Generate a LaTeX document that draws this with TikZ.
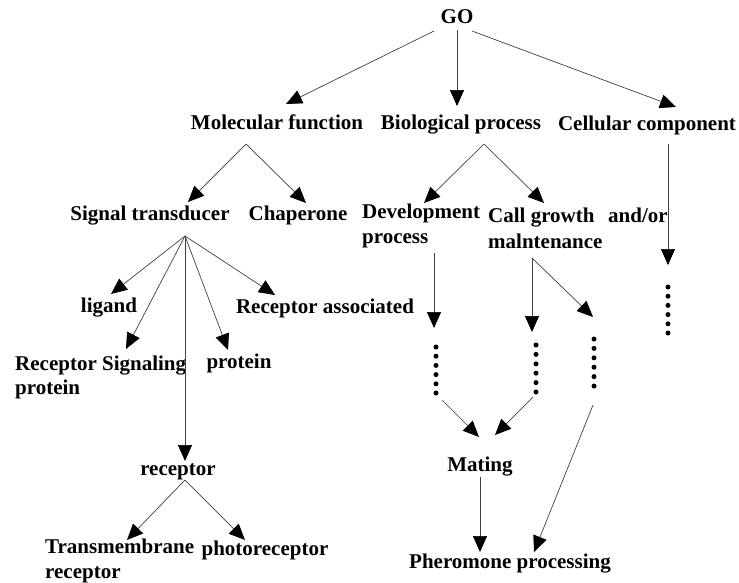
\documentclass[tikz,border=0pt]{standalone}
\usepackage{fontspec}
\setmainfont{Liberation Serif}
\usetikzlibrary{arrows.meta}
\begin{document}
\begin{tikzpicture}[x=1pt,y=-1pt,
  lbl/.style={font=\fontsize{21}{25}\selectfont\bfseries, inner sep=0pt, anchor=base},
  lblw/.style={lbl, anchor=base west},
  conn/.style={draw=black!75, line width=0.7pt, -{Triangle[length=16pt,width=14pt,color=black]}},
  dot/.style={circle, fill=black, inner sep=0pt, minimum size=5pt}]
\useasboundingbox (0,0) rectangle (739,582);
% text nodes
\node[lbl] (go) at (457,23) {GO};
\node[lbl] (mf) at (277,129) {Molecular function};
\node[lbl] (bp) at (461,129) {Biological process};
\node[lbl] (cc) at (647,130) {Cellular component};
\node[lbl] (st) at (150,220) {Signal transducer};
\node[lbl] (ch) at (298,220) {Chaperone};
\node[lblw] (dp1) at (362,218) {Development};
\node[lblw] (dp2) at (362,243) {process};
\node[lblw] (cg1) at (488,222) {Call growth};
\node[lblw] (cg2) at (488,248) {malntenance};
\node[lblw] (ao) at (608,222) {and/or};
\node[lbl] (lg) at (109,312) {ligand};
\node[lbl] (ra) at (325,313) {Receptor associated};
\node[lblw] (rs1) at (15,370) {Receptor Signaling};
\node[lblw] (rs2) at (15,394) {protein};
\node[lbl] (pr) at (239,368) {protein};
\node[lbl] (rc) at (178,475) {receptor};
\node[lblw] (tm1) at (45,553) {Transmembrane};
\node[lblw] (tm2) at (45,578) {receptor};
\node[lbl] (ph) at (265,555) {photoreceptor};
\node[lbl] (mt) at (480,471) {Mating};
\node[lbl] (pp) at (510,568) {Pheromone processing};
% dots
\foreach \i in {0,...,5} {
  \node[dot] (da\i) at (436,{347+9.2*\i}) {};
  \node[dot] (db\i) at (536,{345+9.4*\i}) {};
  \node[dot] (dc\i) at (594,{339+9.4*\i}) {};
  \node[dot] (dd\i) at (668,{287+9.2*\i}) {};
}
% connector coordinates
\coordinate (goL) at (434,31);
\coordinate (goM) at (457,30);
\coordinate (goR) at (472,31);
\coordinate (mfT) at (286,104);
\coordinate (bpT) at (457,106);
\coordinate (ccT) at (676,107);
\coordinate (mfB) at (246,144);
\coordinate (stT) at (188,202);
\coordinate (chT) at (306,203);
\coordinate (bpB) at (484,144);
\coordinate (dpT) at (424,203);
\coordinate (cgT) at (544,203);
\coordinate (ccB) at (668,144);
\coordinate (ddT) at (668,265);
\coordinate (stB) at (185,236);
\coordinate (lgT) at (111,294);
\coordinate (rsT) at (126,349);
\coordinate (prT) at (228,350);
\coordinate (raT) at (275,295);
\coordinate (rcT) at (185,461);
\coordinate (rcB) at (185,480);
\coordinate (tmT) at (127,540);
\coordinate (phT) at (245,540);
\coordinate (dpB) at (434,253);
\coordinate (daT) at (434,328);
\coordinate (cgB) at (532,258);
\coordinate (dbT) at (532,332);
\coordinate (dcT) at (593,317);
\coordinate (daB) at (442,400);
\coordinate (dbB) at (533,397);
\coordinate (dcB) at (593,405);
\coordinate (mtL) at (479,437);
\coordinate (mtR) at (495,435);
\coordinate (mtB) at (480,477);
\coordinate (ppL) at (480,552);
\coordinate (ppR) at (534,552);
% connectors
\draw[conn] (goL) -- (mfT);
\draw[conn] (goM) -- (bpT);
\draw[conn] (goR) -- (ccT);
\draw[conn] (mfB) -- (stT);
\draw[conn] (mfB) -- (chT);
\draw[conn] (bpB) -- (dpT);
\draw[conn] (bpB) -- (cgT);
\draw[conn] (ccB) -- (ddT);
\draw[conn] (stB) -- (lgT);
\draw[conn] (stB) -- (rsT);
\draw[conn] (stB) -- (prT);
\draw[conn] (stB) -- (raT);
\draw[conn] (stB) -- (rcT);
\draw[conn] (rcB) -- (tmT);
\draw[conn] (rcB) -- (phT);
\draw[conn] (dpB) -- (daT);
\draw[conn] (cgB) -- (dbT);
\draw[conn] (cgB) -- (dcT);
\draw[conn] (daB) -- (mtL);
\draw[conn] (dbB) -- (mtR);
\draw[conn] (mtB) -- (ppL);
\draw[conn] (dcB) -- (ppR);
\end{tikzpicture}
\end{document}
